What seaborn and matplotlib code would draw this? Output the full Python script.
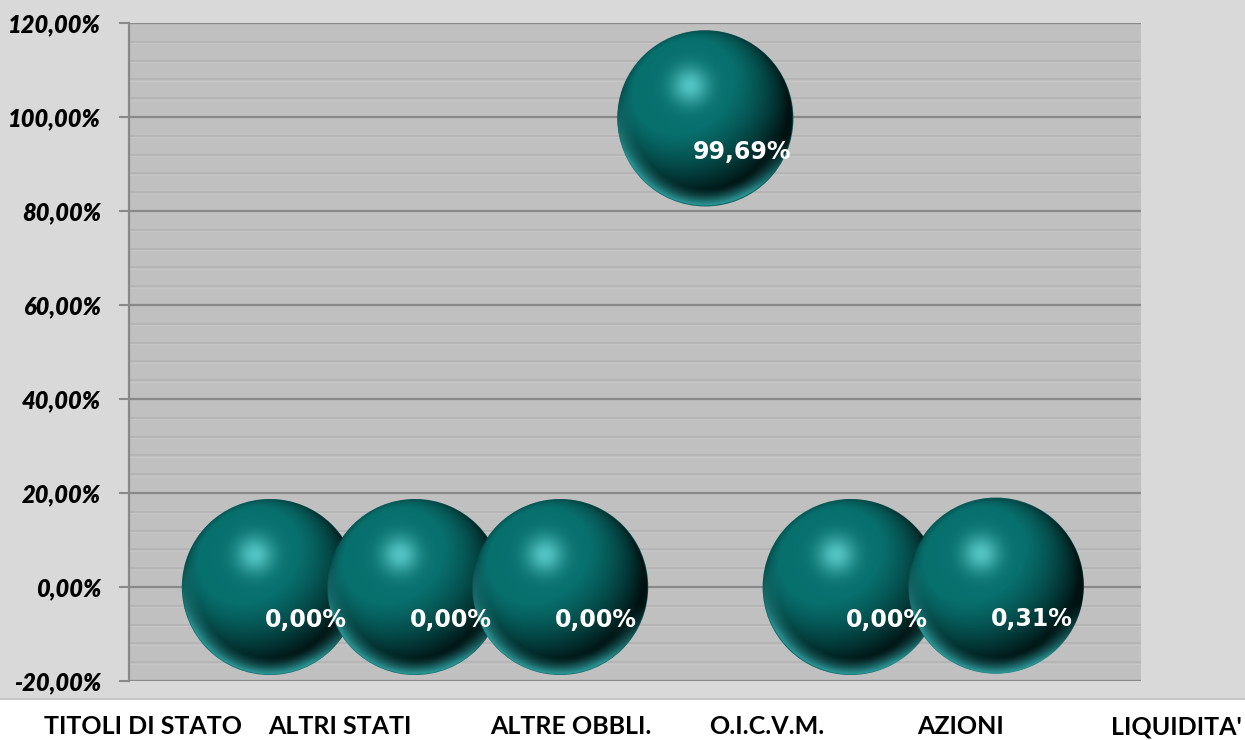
import numpy as np
import pandas as pd
import matplotlib
matplotlib.use("Agg")
import matplotlib.pyplot as plt
from matplotlib.patches import Rectangle
from matplotlib.lines import Line2D
from matplotlib.ticker import FuncFormatter
import seaborn as sns

# Portfolio allocation by asset class (percent)
categories = ["TITOLI DI STATO", "ALTRI STATI", "ALTRE OBBLI.", "O.I.C.V.M.", "AZIONI", "LIQUIDITA'"]
weights = [0.00, 0.00, 0.00, 99.69, 0.00, 0.31]
y_ticks = [-20, 0, 20, 40, 60, 80, 100, 120]

df = pd.DataFrame({"categoria": categories, "peso": weights,
                   "pos": np.arange(1, len(categories) + 1)})

sns.set_style("white")
plt.rcParams["font.family"] = ["Lato", "DejaVu Sans"]

W, H, DPI = 1245, 740, 100
fig = plt.figure(figsize=(W / DPI, H / DPI), dpi=DPI, facecolor="white")

# grey chart panel above the category row
panel_bottom = (H - 699) / H
fig.add_artist(Rectangle((0, panel_bottom), 1, 1 - panel_bottom, transform=fig.transFigure,
                         facecolor="#d9d9d9", edgecolor="none", zorder=-5))
fig.add_artist(Line2D([0, 1], [panel_bottom, panel_bottom], transform=fig.transFigure,
                      color="#c6c6c6", lw=1.5, zorder=-4))

ax_l, ax_r, ax_t, ax_b = 129, 1141, 23, 681
ax = fig.add_axes([ax_l / W, 1 - ax_b / H, (ax_r - ax_l) / W, (ax_b - ax_t) / H])
ax.set_facecolor("#c0c0c0")

XMIN, XMAX = 0.03, 7.0
YMIN, YMAX = -20, 120

# gridlines: minor every 4 points, major every 20
for v in np.arange(YMIN, YMAX + 0.1, 4):
    if v % 20 == 0:
        ax.axhline(v, color="#898989", lw=1.6, zorder=1)
    else:
        ax.axhline(v, color="#b5b5b5", lw=1.4, zorder=0.5)
        ax.axhline(v - 0.35, color="#c6c6c6", lw=0.8, zorder=0.5)

# sphere geometry in pixels -> data units
R_PX = 88
rx = R_PX / (ax_r - ax_l) * (XMAX - XMIN)
ry = R_PX / (ax_b - ax_t) * (YMAX - YMIN)

# base discs
sns.scatterplot(data=df, x="pos", y="peso", ax=ax, s=(2 * R_PX * 0.72) ** 2,
                color="#0a5f5e", edgecolor="none", legend=False, zorder=2)

# shaded sphere texture
N = 400
u = np.linspace(-1, 1, N)
X, Yd = np.meshgrid(u, u)
Y = -Yd
R2 = X ** 2 + Y ** 2
R = np.sqrt(R2)
Z = np.sqrt(np.clip(1 - R2, 0, 1))
L = np.array([-0.30, 0.45, 0.84])
L = L / np.linalg.norm(L)
d = np.clip(X * L[0] + Y * L[1] + Z * L[2], 0, 1)
dark = np.array([0.0, 0.07, 0.07])
mid = np.array([0.03, 0.44, 0.43])
hi = np.array([0.36, 0.80, 0.80])
rimc = np.array([0.17, 0.58, 0.58])
col = dark + (mid - dark) * (np.clip(d * 1.25, 0, 1) ** 1.15)[..., None]
spec = np.exp(-((X + 0.17) ** 2 + (Y - 0.37) ** 2) / 0.045)
col = col + (hi - col) * (spec * 0.9)[..., None]
rim = np.clip((R - 0.80) / 0.20, 0, 1) ** 1.3 * np.clip(-Y * 1.3 - X * 0.35 + 0.05, 0, 1)
col = col + (rimc - col) * np.clip(rim * 1.1, 0, 1)[..., None]
alpha = np.clip((1 - R) * N / 2, 0, 1)
sphere = np.dstack([np.clip(col, 0, 1), alpha])

for i, row in df.iterrows():
    x, y = row["pos"], row["peso"]
    ax.imshow(sphere, extent=(x - rx, x + rx, y - ry, y + ry), aspect="auto",
              interpolation="bilinear", zorder=3 + i)
    label = f"{row['peso']:.2f}".replace(".", ",") + "%"
    ax.annotate(label, (x, y), xytext=(26, -24), textcoords="offset points",
                ha="center", va="center", color="white", fontsize=17,
                fontweight="bold", family=["DejaVu Sans"], zorder=20)

ax.set_xlim(XMIN, XMAX)
ax.set_ylim(YMIN, YMAX)
ax.set_xlabel("")
ax.set_ylabel("")
ax.set_xticks([])
ax.set_yticks(y_ticks)
ax.yaxis.set_major_formatter(FuncFormatter(lambda v, p: f"{v:.2f}".replace(".", ",") + "%"))
ax.tick_params(axis="y", length=7, width=1.5, color="#898989", pad=13, labelsize=17, left=True)
for lab in ax.get_yticklabels():
    lab.set_fontweight("heavy")
    lab.set_fontstyle("italic")
    lab.set_color("#000000")

for side in ["top", "right", "bottom"]:
    ax.spines[side].set_visible(False)
ax.spines["left"].set_color("#898989")
ax.spines["left"].set_linewidth(1.6)
ax.spines["left"].set_zorder(30)

# category row below the chart panel
label_x_px = [143, 340, 571, 767, 961, 1176]
for name, xp in zip(categories, label_x_px):
    fig.text(xp / W, (H - 727) / H, name, ha="center", va="center",
             fontsize=18, fontweight="bold", color="black")

fig.savefig("out.png", dpi=DPI, facecolor=fig.get_facecolor())
